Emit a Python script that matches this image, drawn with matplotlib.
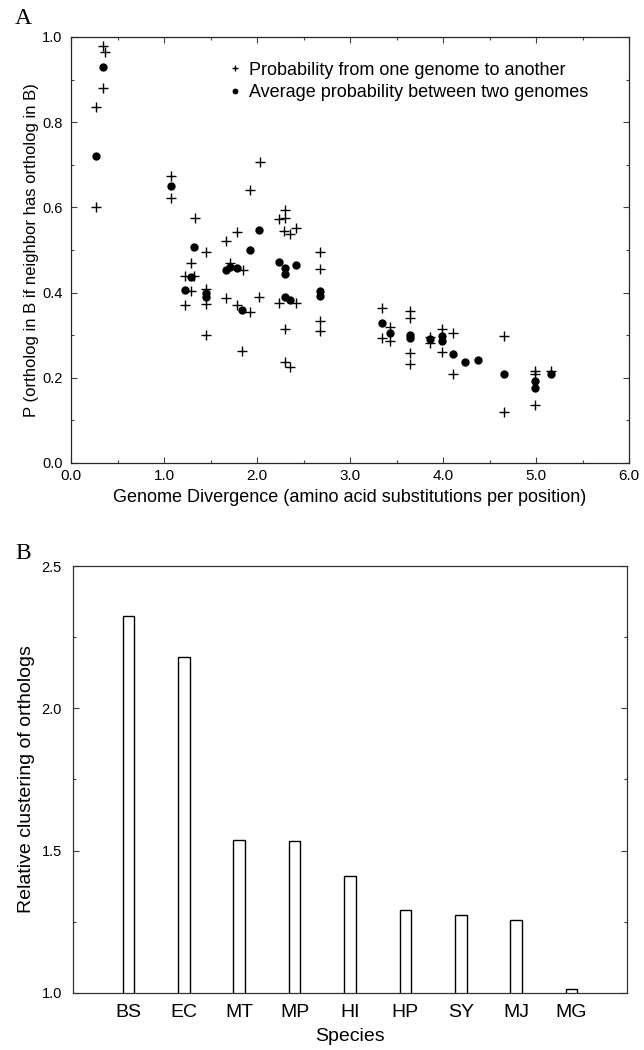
import matplotlib
matplotlib.use("Agg")
import matplotlib.pyplot as plt
from matplotlib.ticker import MultipleLocator
import numpy as np

plt.rcParams['font.family'] = ['Liberation Sans', 'DejaVu Sans']

# ---- Panel A data ----
plus_x = [0.34, 0.37, 0.34, 0.27, 0.27,
          1.08, 1.08,
          1.33, 1.29, 1.23, 1.32, 1.29, 1.23,
          1.45, 1.45, 1.45, 1.45,
          1.67, 1.71, 1.67,
          1.79, 1.85, 1.79, 1.84,
          1.92, 1.92,
          2.03, 2.02,
          2.30, 2.24, 2.30, 2.29, 2.42, 2.36, 2.24, 2.42, 2.30, 2.30, 2.36,
          2.68, 2.68, 2.68, 2.68,
          3.34, 3.34, 3.43, 3.43,
          3.64, 3.64, 3.64, 3.64,
          3.86, 3.86,
          3.99, 3.99,
          4.11, 4.11,
          4.66, 4.66,
          4.99, 4.99, 4.99,
          5.16]
plus_y = [0.979, 0.965, 0.880, 0.836, 0.602,
          0.674, 0.622,
          0.576, 0.469, 0.439, 0.440, 0.403, 0.370,
          0.495, 0.408, 0.373, 0.300,
          0.520, 0.469, 0.388,
          0.542, 0.453, 0.372, 0.262,
          0.641, 0.355,
          0.707, 0.389,
          0.594, 0.572, 0.574, 0.545, 0.552, 0.537, 0.376, 0.376, 0.315, 0.236, 0.226,
          0.496, 0.455, 0.333, 0.309,
          0.363, 0.293, 0.320, 0.287,
          0.357, 0.341, 0.258, 0.232,
          0.296, 0.281,
          0.314, 0.261,
          0.306, 0.208,
          0.297, 0.119,
          0.217, 0.208, 0.135,
          0.215]

avg_x = [0.34, 0.27, 1.08, 1.32, 1.29, 1.23, 1.45, 1.45,
         1.67, 1.71, 1.79, 1.84, 1.93, 2.02,
         2.24, 2.42, 2.30, 2.30, 2.30, 2.35,
         2.68, 2.68,
         3.34, 3.43, 3.64, 3.64, 3.86, 3.99, 3.99,
         4.11, 4.24, 4.38, 4.66, 4.99, 4.99, 5.16]
avg_y = [0.929, 0.720, 0.650, 0.507, 0.436, 0.405, 0.400, 0.390,
         0.453, 0.459, 0.457, 0.358, 0.499, 0.548,
         0.473, 0.464, 0.457, 0.444, 0.390, 0.382,
         0.404, 0.393,
         0.328, 0.304, 0.300, 0.293, 0.290, 0.298, 0.286,
         0.257, 0.237, 0.242, 0.208, 0.192, 0.175, 0.209]

# ---- Panel B data ----
species = ['BS', 'EC', 'MT', 'MP', 'HI', 'HP', 'SY', 'MJ', 'MG']
clustering = [2.324, 2.179, 1.537, 1.535, 1.412, 1.292, 1.275, 1.256, 1.014]

fig = plt.figure(figsize=(6.44, 10.5), dpi=100)

# ---------- Panel A ----------
axA = fig.add_axes([71/644, 1-463/1050, 558/644, 426/1050])
axA.plot(plus_x, plus_y, linestyle='none', marker='+', ms=7, mew=1.0,
         color='black', label='Probability from one genome to another')
axA.plot(avg_x, avg_y, linestyle='none', marker='o', ms=6, mew=0,
         color='black', label='Average probability between two genomes')
axA.set_xlim(0, 6)
axA.set_ylim(0, 1)
axA.xaxis.set_major_locator(MultipleLocator(1.0))
axA.xaxis.set_minor_locator(MultipleLocator(0.5))
axA.yaxis.set_major_locator(MultipleLocator(0.2))
axA.yaxis.set_minor_locator(MultipleLocator(0.1))
axA.xaxis.set_major_formatter(plt.FuncFormatter(lambda v, p: f'{v:.1f}'))
axA.yaxis.set_major_formatter(plt.FuncFormatter(lambda v, p: f'{v:.1f}'))
axA.tick_params(which='both', direction='in', top=True, right=True, color='0.25', width=0.8)
axA.tick_params(which='major', length=4)
axA.tick_params(which='minor', length=2.5)
axA.tick_params(axis='x', labelsize=11, pad=4)
axA.tick_params(axis='y', labelsize=10.5, pad=6)
axA.set_xlabel('Genome Divergence (amino acid substitutions per position)', fontsize=13, labelpad=5)
axA.set_ylabel('P (ortholog in B if neighbor has ortholog in B)', fontsize=12, labelpad=2)
for s in axA.spines.values():
    s.set_linewidth(0.9)
    s.set_color('0.15')
leg = axA.legend(loc='upper left', bbox_to_anchor=(0.285, 0.942), frameon=False,
                 fontsize=13, handlelength=0.6, handletextpad=0.45,
                 labelspacing=0.32, borderpad=0, borderaxespad=0, markerscale=0.7)

# ---------- Panel B ----------
axB = fig.add_axes([73/644, 1-993/1050, 554/644, 427/1050])
pos = np.arange(1, len(species) + 1)
axB.bar(pos, clustering, width=0.21, color='white', edgecolor='black', linewidth=1.0)
axB.set_xlim(0, 10)
axB.set_ylim(1.0, 2.5)
axB.set_xticks(pos)
axB.set_xticklabels(species, fontsize=14)
axB.yaxis.set_major_locator(MultipleLocator(0.5))
axB.yaxis.set_minor_locator(MultipleLocator(0.25))
axB.yaxis.set_major_formatter(plt.FuncFormatter(lambda v, p: f'{v:.1f}'))
axB.tick_params(axis='x', length=0, pad=8)
axB.tick_params(axis='y', which='both', direction='in', right=True, color='0.25', width=0.8, labelsize=10.5, pad=8)
axB.tick_params(axis='y', which='major', length=4)
axB.tick_params(axis='y', which='minor', length=2.5)
axB.set_xlabel('Species', fontsize=14, labelpad=5)
axB.set_ylabel('Relative clustering of orthologs', fontsize=14, labelpad=5)
for s in axB.spines.values():
    s.set_linewidth(0.9)
    s.set_color('0.2')

fig.text(15/644, 1-8/1050, 'A', fontsize=17, family='Liberation Serif', va='top', ha='left')
fig.text(15/644, 1-543/1050, 'B', fontsize=17, family='Liberation Serif', va='top', ha='left')

fig.savefig('out.png', dpi=100)
